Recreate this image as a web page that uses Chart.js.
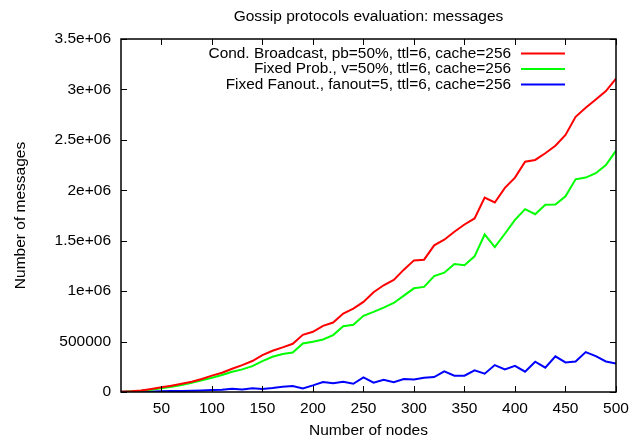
<!DOCTYPE html>
<html>
<head>
<meta charset="utf-8">
<script src="https://cdn.jsdelivr.net/npm/chart.js@4"></script>
<style>
	html, body { margin: 0; padding: 0; background: #fff; }
	#wrap { width: 642px; height: 438px; }
</style>
</head>
<body>
<div id="wrap"><canvas id="gossip"></canvas></div>
<script>
// number of nodes, one sample every 10
const nodes = [10, 20, 30, 40, 50, 60, 70, 80, 90, 100, 110, 120, 130, 140, 150, 160, 170, 180, 190, 200,
	210, 220, 230, 240, 250, 260, 270, 280, 290, 300, 310, 320, 330, 340, 350, 360, 370, 380, 390, 400,
	410, 420, 430, 440, 450, 460, 470, 480, 490, 500];

const condBroadcast = [3000, 7000, 16000, 30000, 46000, 63000, 82000, 102000, 129000, 162000,
	191000, 231000, 267000, 307000, 366000, 409000, 442000, 478000, 567000, 597000,
	656000, 689000, 778000, 827000, 893000, 989000, 1058000, 1111000, 1213000, 1305000,
	1312000, 1454000, 1510000, 1589000, 1661000, 1721000, 1928000, 1879000, 2024000, 2126000,
	2284000, 2301000, 2367000, 2442000, 2548000, 2729000, 2818000, 2900000, 2983000, 3108000];

const fixedProb = [1000, 7000, 13000, 23000, 36000, 53000, 69000, 92000, 115000, 142000,
	168000, 201000, 224000, 257000, 307000, 349000, 376000, 392000, 481000, 498000,
	521000, 564000, 653000, 666000, 755000, 794000, 837000, 883000, 956000, 1028000,
	1042000, 1150000, 1183000, 1269000, 1256000, 1345000, 1562000, 1437000, 1569000, 1707000,
	1813000, 1763000, 1856000, 1859000, 1941000, 2109000, 2126000, 2169000, 2251000, 2393000];

const fixedFanout = [2000, 3000, 5000, 6000, 8000, 10000, 11000, 13000, 16000, 20000,
	23000, 33000, 26000, 36000, 30000, 40000, 53000, 59000, 36000, 66000,
	99000, 86000, 102000, 82000, 145000, 92000, 122000, 96000, 129000, 125000,
	142000, 148000, 204000, 162000, 162000, 214000, 181000, 267000, 224000, 260000,
	201000, 300000, 241000, 353000, 293000, 303000, 396000, 356000, 303000, 283000];

const seriesLabels = [
	'Cond. Broadcast, pb=50%, ttl=6, cache=256',
	'Fixed Prob., v=50%, ttl=6, cache=256',
	'Fixed Fanout., fanout=5, ttl=6, cache=256',
];
const seriesColors = ['#ff0000', '#00ff00', '#0000ff'];

const xTicks = [50, 100, 150, 200, 250, 300, 350, 400, 450, 500];
const yTicks = [0, 500000, 1000000, 1500000, 2000000, 2500000, 3000000, 3500000];

const chartTitle = 'Gossip protocols evaluation: messages';

const FONT = 'Liberation Sans, Arial, Helvetica, sans-serif';

function fmtY(v) {
	if (v === 0) return '0';
	if (v < 1000000) return String(v);
	return (v / 1000000) + 'e+06';
}

function toPoints(vals) {
	return vals.map((v, i) => ({ x: nodes[i], y: v }));
}

// gnuplot style frame: box plus inward ticks on all four sides
const framePlugin = {
	id: 'frame',
	afterDatasetsDraw(chart) {
		const { ctx, chartArea: a, scales } = chart;
		ctx.save();
		ctx.strokeStyle = '#000';
		ctx.lineWidth = 1;
		ctx.beginPath();
		xTicks.forEach((t) => {
			const px = Math.round(scales.x.getPixelForValue(t)) + 0.5;
			ctx.moveTo(px, a.bottom); ctx.lineTo(px, a.bottom - 6);
			ctx.moveTo(px, a.top); ctx.lineTo(px, a.top + 6);
		});
		yTicks.forEach((t) => {
			const py = Math.round(scales.y.getPixelForValue(t)) + 0.5;
			ctx.moveTo(a.left, py); ctx.lineTo(a.left + 6, py);
			ctx.moveTo(a.right, py); ctx.lineTo(a.right - 6, py);
		});
		ctx.stroke();
		ctx.lineWidth = 1.5;
		ctx.strokeRect(a.left, a.top, a.right - a.left, a.bottom - a.top);
		ctx.restore();
	},
};

// title centred over the plot box, key in the top right with the sample line after the text
const keyPlugin = {
	id: 'key',
	afterDraw(chart) {
		const { ctx, chartArea: a } = chart;
		ctx.save();
		ctx.fillStyle = '#000';
		ctx.textBaseline = 'middle';
		ctx.font = '15.5px ' + FONT;
		ctx.textAlign = 'center';
		ctx.fillText(chartTitle, (a.left + a.right) / 2, 16.5);

		ctx.font = '15.4px ' + FONT;
		ctx.textAlign = 'right';
		chart.data.datasets.forEach((ds, i) => {
			const y = 53.5 + i * 15.5;
			ctx.fillStyle = '#000';
			ctx.fillText(ds.label, 511, y);
			ctx.strokeStyle = ds.borderColor;
			ctx.lineWidth = 2;
			ctx.beginPath();
			ctx.moveTo(521, y); ctx.lineTo(565, y);
			ctx.stroke();
		});
		ctx.restore();
	},
};

const ctx = document.getElementById('gossip').getContext('2d');
new Chart(ctx, {
	type: 'line',
	data: {
		datasets: [condBroadcast, fixedProb, fixedFanout].map((vals, i) => ({
			label: seriesLabels[i],
			data: toPoints(vals),
			borderColor: seriesColors[i],
			backgroundColor: seriesColors[i],
			borderWidth: 2,
			pointRadius: 0,
			tension: 0,
			fill: false,
		})),
	},
	options: {
		responsive: true,
		maintainAspectRatio: false,
		animation: false,
		layout: { padding: { left: 0, top: 39, right: 26, bottom: 0 } },
		plugins: {
			legend: { display: false },
			tooltip: { enabled: false },
			title: { display: false },
		},
		scales: {
			x: {
				type: 'linear',
				min: 10,
				max: 500,
				afterBuildTicks: (scale) => { scale.ticks = xTicks.map((v) => ({ value: v })); },
				afterFit: (scale) => { scale.height = 46; },
				grid: { display: false, drawTicks: false },
				border: { display: false },
				ticks: { color: '#000', padding: 7, maxRotation: 0, font: { family: FONT, size: 15.5 } },
				title: {
					display: true,
					text: 'Number of nodes',
					color: '#000',
					font: { family: FONT, size: 15.5, lineHeight: 1 },
					padding: { top: 0, bottom: 0 },
				},
			},
			y: {
				min: 0,
				max: 3500000,
				afterBuildTicks: (scale) => { scale.ticks = yTicks.map((v) => ({ value: v })); },
				afterFit: (scale) => { scale.width = 121; },
				grid: { display: false, drawTicks: false },
				border: { display: false },
				ticks: { color: '#000', padding: 10, callback: fmtY, font: { family: FONT, size: 15.5 } },
				title: {
					display: true,
					text: 'Number of messages',
					color: '#000',
					font: { family: FONT, size: 15.5, lineHeight: 1 },
					padding: { top: 13, bottom: 0 },
				},
			},
		},
	},
	plugins: [framePlugin, keyPlugin],
});
</script>
</body>
</html>
